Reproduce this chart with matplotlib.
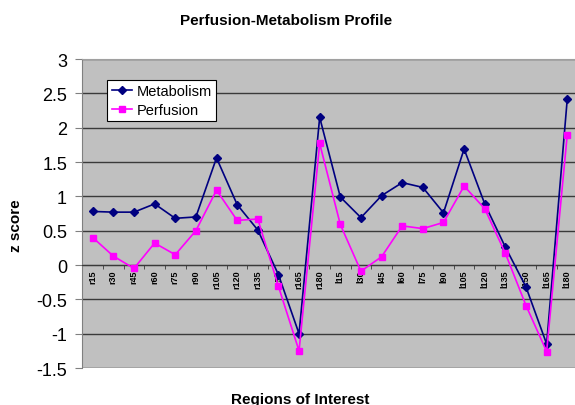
import matplotlib
matplotlib.use("Agg")
import matplotlib.pyplot as plt
import numpy as np

plt.rcParams['font.family'] = ['Liberation Sans', 'DejaVu Sans']

regions = ['r15', 'r30', 'r45', 'r60', 'r75', 'r90', 'r105', 'r120', 'r135', 'r150', 'r165', 'r180',
           'l15', 'l30', 'l45', 'l60', 'l75', 'l90', 'l105', 'l120', 'l135', 'l150', 'l165', 'l180']
metabolism = [0.78, 0.77, 0.77, 0.89, 0.68, 0.70, 1.56, 0.88, 0.51, -0.14, -1.00, 2.15,
              0.99, 0.69, 1.01, 1.20, 1.13, 0.76, 1.69, 0.89, 0.26, -0.32, -1.15, 2.42]
perfusion = [0.40, 0.13, -0.05, 0.32, 0.15, 0.50, 1.09, 0.65, 0.67, -0.31, -1.25, 1.77,
             0.59, -0.09, 0.12, 0.57, 0.53, 0.62, 1.15, 0.82, 0.17, -0.59, -1.26, 1.90]
yticks = [3, 2.5, 2, 1.5, 1, 0.5, 0, -0.5, -1, -1.5]

fig = plt.figure(figsize=(5.75, 4.06), dpi=100)
ax = fig.add_axes([0.1433, 0.0911, 0.8612, 0.7611])
ax.set_facecolor('#c0c0c0')

x = np.arange(len(regions))
ax.plot(x, metabolism, color='#000080', marker='D', markersize=4.5, lw=1.2, label='Metabolism', zorder=3)
ax.plot(x, perfusion, color='#ff00ff', marker='s', markersize=4.5, lw=1.2, label='Perfusion', zorder=3)

ax.set_xlim(-0.5, len(regions) - 0.5)
ax.set_ylim(-1.5, 3)
ax.set_yticks(yticks)
ax.set_yticklabels([('%g' % v) for v in yticks], fontsize=13)
ax.tick_params(axis='y', length=5, width=0.8, color='#808080', pad=6)
ax.grid(axis='y', color='#3a3a3a', lw=1.0)
ax.set_axisbelow(True)

# category axis crosses at zero
ax.spines['bottom'].set_position(('data', 0))
ax.spines['bottom'].set_color('#3a3a3a')
ax.spines['top'].set_color('#a0a0a0')
ax.spines['left'].set_color('#808080')
ax.spines['right'].set_visible(False)
ax.set_xticks(x)
ax.set_xticklabels(regions, rotation=90, fontsize=6.5, fontweight='bold')
ax.set_xticks(np.arange(len(regions)) + 0.5, minor=True)
ax.tick_params(axis='x', which='major', length=0, pad=3)
ax.tick_params(axis='x', which='minor', length=3, color='#3a3a3a')

leg = ax.legend(loc='upper left', bbox_to_anchor=(0.05, 0.932), borderaxespad=0, fontsize=10.5,
                handlelength=1.4, handletextpad=0.3, borderpad=0.3, labelspacing=0.3,
                fancybox=False, framealpha=1, edgecolor='black')
leg.get_frame().set_linewidth(0.8)

fig.text(0.497, 0.948, 'Perfusion-Metabolism Profile', ha='center', va='center',
         fontsize=11, fontweight='bold')
fig.text(0.522, 0.015, 'Regions of Interest', ha='center', va='center',
         fontsize=11, fontweight='bold')
fig.text(0.028, 0.443, 'z score', ha='center', va='center', rotation=90,
         fontsize=11, fontweight='bold')

fig.savefig('out.png', dpi=100)
